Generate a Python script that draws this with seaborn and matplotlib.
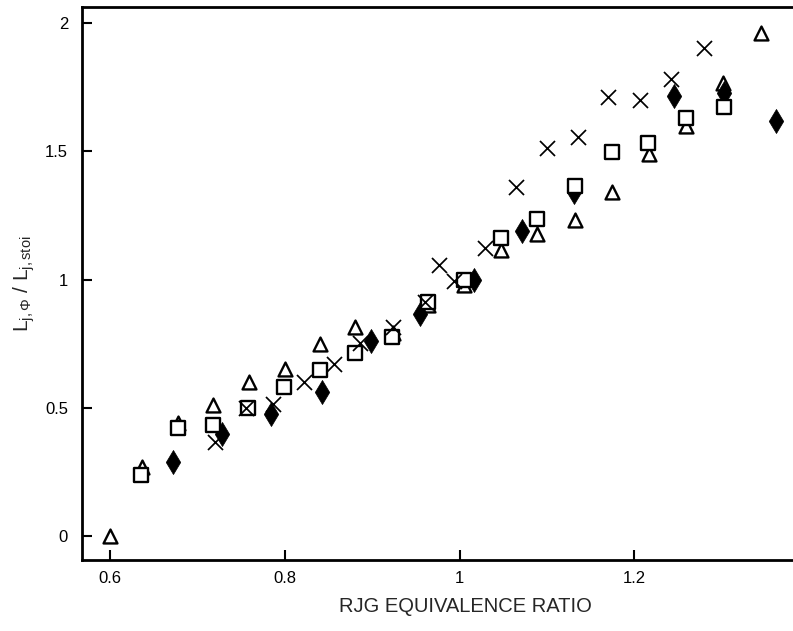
import matplotlib
matplotlib.use("Agg")
import matplotlib.pyplot as plt
import seaborn as sns

# Equivalence ratio (x) and normalised length L_phi / L_stoi (y) for four runs
tri_x = [0.600, 0.637, 0.678, 0.718, 0.759, 0.800, 0.840, 0.881, 0.924, 0.964,
         1.005, 1.047, 1.089, 1.132, 1.174, 1.217, 1.259, 1.301, 1.345]
tri_y = [0.00, 0.27, 0.44, 0.51, 0.60, 0.65, 0.75, 0.816, 0.79, 0.90,
         0.98, 1.115, 1.177, 1.232, 1.342, 1.489, 1.60, 1.767, 1.962]

sq_x = [0.636, 0.678, 0.718, 0.758, 0.799, 0.840, 0.881, 0.9225, 0.964,
        1.005, 1.047, 1.089, 1.132, 1.174, 1.216, 1.259, 1.302]
sq_y = [0.238, 0.42, 0.433, 0.498, 0.582, 0.647, 0.712, 0.775, 0.913,
        0.998, 1.16, 1.235, 1.364, 1.498, 1.533, 1.628, 1.674]

cross_x = [0.7206, 0.756, 0.787, 0.822, 0.857, 0.886, 0.924, 0.9606, 0.977,
           0.994, 1.029, 1.065, 1.100, 1.135, 1.170, 1.206, 1.242, 1.279]
cross_y = [0.368, 0.50, 0.515, 0.60, 0.67, 0.751, 0.816, 0.913, 1.057,
           0.995, 1.122, 1.36, 1.511, 1.554, 1.71, 1.70, 1.782, 1.904]

dia_x = [0.673, 0.729, 0.785, 0.843, 0.899, 0.955, 1.016, 1.071, 1.131,
         1.245, 1.3026, 1.3617]
dia_y = [0.29, 0.396, 0.476, 0.563, 0.760, 0.865, 0.998, 1.19, 1.34,
         1.715, 1.726, 1.619]

x_ticks = [0.6, 0.8, 1.0, 1.2]
x_tick_labels = ["0.6", "0.8", "1", "1.2"]
y_ticks = [0, 0.5, 1, 1.5, 2]
y_tick_labels = ["0", "0.5", "1", "1.5", "2"]

sns.set_theme(style="ticks")
plt.rcParams["font.family"] = ["Liberation Sans", "DejaVu Sans"]
plt.rcParams["mathtext.fontset"] = "custom"
plt.rcParams["mathtext.rm"] = "Liberation Sans"
plt.rcParams["mathtext.it"] = "Liberation Sans"
plt.rcParams["mathtext.bf"] = "Liberation Sans:bold"

W, H = 793, 631
fig = plt.figure(figsize=(W / 100, H / 100), dpi=100)
left, right, top, bottom = 82, 848, 7, 560
ax = fig.add_axes([left / W, 1 - bottom / H, (right - left) / W, (bottom - top) / H])

sns.scatterplot(x=tri_x, y=tri_y, marker="^", s=100, color="white",
                edgecolor="black", linewidth=1.7, ax=ax, zorder=2)
sns.scatterplot(x=dia_x, y=dia_y, marker="d", s=150, color="black",
                edgecolor="black", linewidth=0.5, ax=ax, zorder=3)
sns.scatterplot(x=sq_x, y=sq_y, marker="s", s=88, color="white",
                edgecolor="black", linewidth=1.7, ax=ax, zorder=4)
sns.scatterplot(x=cross_x, y=cross_y, marker="x", s=117, color="black",
                linewidth=1.25, ax=ax, zorder=5)

ax.set_xlim(0.6 + (left - 109.5) / 875, 0.6 + (right - 109.5) / 875)
ax.set_ylim((536 - bottom) / 256.5, (536 - top) / 256.5)

ax.set_xticks(x_ticks)
ax.set_xticklabels(x_tick_labels)
ax.set_yticks(y_ticks)
ax.set_yticklabels(y_tick_labels)
ax.tick_params(direction="in", length=7, width=1.5, labelsize=12,
               colors="black")
ax.tick_params(axis="x", pad=8)
ax.tick_params(axis="y", pad=10)

for side in ["left", "top", "bottom", "right"]:
    ax.spines[side].set_linewidth(2)
    ax.spines[side].set_color("black")

ax.set_xlabel("RJG EQUIVALENCE RATIO", fontsize=14.5, labelpad=8)
ax.set_ylabel(r"$\mathregular{L_{j,\Phi}\ /\ L_{j,stoi}}$", fontsize=15)
ax.yaxis.set_label_coords((37 - left) / (right - left), 0.5)

fig.savefig("out.png", dpi=100)
